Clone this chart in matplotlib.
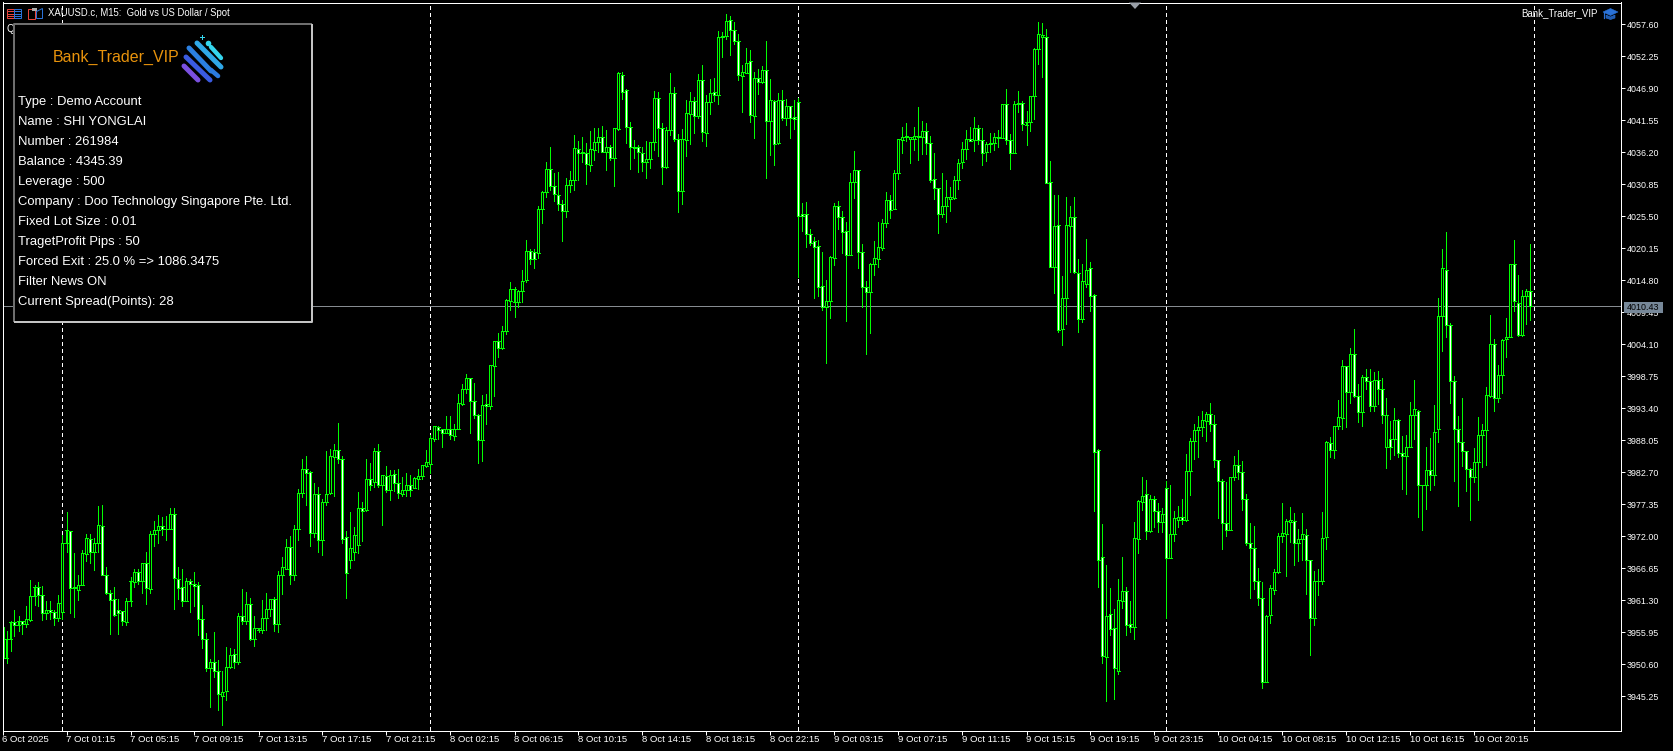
import matplotlib
matplotlib.use("Agg")
import matplotlib.pyplot as plt
from matplotlib.patches import Rectangle, Polygon, Circle
import numpy as np

highs = [
3956.9,3956.2,3957.8,3959.7,3958.6,3957.8,3960.4,3964.7,3963.8,3964.4,
3963.7,3961.1,3961.2,3959.6,3962.2,3972.2,3976.1,3972.9,3969.2,3965.5,
3969.7,3972.4,3972.4,3971.7,3977.1,3977.2,3966.9,3963.0,3963.5,3961.5,
3959.5,3961.6,3965.2,3966.6,3966.6,3967.5,3969.4,3972.8,3974.5,3975.5,
3975.3,3975.4,3976.7,3976.7,3966.9,3966.6,3965.0,3964.8,3966.0,3964.3,
3960.5,3955.8,3951.5,3956.0,3951.3,3949.5,3953.5,3953.3,3953.2,3959.1,
3963.2,3962.7,3961.7,3958.6,3956.6,3961.3,3962.5,3961.5,3961.8,3966.2,
3968.6,3971.5,3972.0,3973.9,3979.9,3984.9,3985.4,3982.9,3980.9,3980.2,
3978.2,3986.3,3986.6,3987.4,3990.9,3985.4,3972.9,3976.1,3973.6,3979.4,
3977.7,3984.9,3984.2,3986.7,3987.5,3982.2,3983.7,3983.1,3983.1,3983.2,
3981.9,3982.6,3982.2,3981.9,3983.2,3984.0,3986.4,3988.9,3990.5,3990.4,
3989.9,3992.1,3992.1,3990.8,3995.8,3997.4,3999.1,3998.4,3997.6,3992.5,
3995.6,3995.8,4000.6,4004.6,4006.0,4007.2,4011.6,4014.5,4013.6,4013.2,
4016.5,4021.5,4020.1,4020.1,4027.3,4029.7,4034.5,4037.1,4032.7,4032.9,
4028.2,4031.9,4033.0,4039.1,4038.1,4038.8,4037.7,4039.8,4040.2,4040.3,
4040.6,4039.9,4037.4,4040.2,4049.6,4049.6,4046.8,4041.3,4038.3,4037.4,
4037.0,4038.1,4038.0,4046.4,4046.3,4041.1,4040.5,4049.5,4047.1,4039.2,
4040.1,4044.9,4046.3,4045.4,4049.3,4050.8,4045.8,4048.5,4048.6,4056.4,
4056.3,4059.3,4059.0,4057.9,4056.0,4050.8,4053.6,4053.3,4049.6,4050.1,
4050.6,4054.8,4048.5,4045.0,4046.1,4046.6,4045.1,4044.0,4044.9,4045.3,
4027.7,4027.9,4023.4,4022.0,4021.5,4019.5,4014.8,4018.9,4027.7,4028.0,
4026.3,4024.5,4032.7,4036.4,4033.2,4020.9,4014.7,4017.7,4021.4,4024.5,
4025.0,4029.6,4029.0,4033.2,4038.5,4040.4,4041.1,4038.8,4040.4,4043.7,
4041.5,4041.1,4039.0,4036.1,4030.2,4032.7,4031.5,4030.4,4032.3,4035.0,
4037.9,4040.0,4040.4,4042.1,4040.7,4040.3,4037.9,4039.4,4039.4,4039.9,
4044.2,4046.8,4039.3,4044.7,4046.4,4044.8,4043.1,4045.6,4053.7,4057.9,
4057.8,4056.8,4034.7,4029.0,4029.0,4015.5,4028.7,4027.2,4028.7,4018.3,
4017.5,4021.7,4017.9,4012.5,3986.6,3974.0,3967.2,3963.3,3959.8,3964.9,
3968.5,3963.5,3961.2,3974.4,3978.1,3981.9,3981.4,3978.9,3978.7,3977.6,
3976.7,3981.2,3980.6,3976.2,3977.1,3978.2,3985.7,3988.4,3990.8,3992.1,
3993.0,3992.7,3994.2,3992.3,3984.7,3981.5,3981.0,3981.9,3985.5,3986.5,
3984.6,3979.1,3974.2,3973.7,3966.7,3964.4,3958.8,3963.8,3966.5,3972.5,
3977.6,3974.9,3976.9,3975.9,3973.2,3975.9,3973.2,3968.1,3966.2,3966.5,
3976.1,3988.0,3988.6,3990.5,3994.8,4001.5,4000.5,4003.4,4006.7,3997.5,
3999.0,4000.0,3999.9,3999.5,3999.6,3998.5,3995.2,3991.3,3993.4,3991.6,
3988.8,3988.9,3994.4,3998.1,3993.1,3980.6,3987.0,3988.4,3993.9,4011.8,
4020.0,4022.9,4007.6,3998.8,3992.1,3995.1,3986.3,3983.4,3986.8,3991.9,
3990.8,3996.9,4009.0,4004.9,4000.6,4004.9,4008.5,4017.6,4021.5,4015.7,
4013.2,4013.3,4020.9]

body_tops = [
3956.9,3954.9,3957.6,3957.6,3957.8,3957.8,3958.1,3962.0,3963.6,3963.6,
3962.1,3959.6,3959.6,3959.3,3960.8,3970.8,3973.0,3972.8,3963.5,3963.8,
3969.2,3971.7,3971.5,3970.8,3973.9,3973.8,3965.6,3962.5,3961.5,3959.6,
3959.5,3961.1,3964.5,3966.0,3966.1,3967.5,3967.5,3972.4,3973.0,3973.7,
3973.7,3973.3,3975.7,3975.7,3964.8,3963.5,3964.5,3964.6,3964.1,3963.8,
3958.1,3954.8,3950.9,3950.9,3949.4,3946.0,3950.2,3952.2,3952.4,3958.7,
3958.7,3960.6,3960.6,3956.6,3956.6,3958.4,3959.8,3961.5,3961.5,3965.6,
3966.8,3970.2,3970.2,3973.3,3979.3,3983.2,3983.2,3982.7,3979.0,3979.0,
3977.8,3979.0,3985.4,3986.4,3986.4,3984.9,3971.8,3970.0,3972.2,3976.8,
3976.8,3981.5,3981.5,3986.2,3986.2,3982.2,3982.1,3982.3,3982.4,3980.9,
3979.8,3980.5,3980.5,3981.7,3982.1,3983.9,3984.4,3988.4,3990.4,3990.3,
3989.9,3989.9,3989.9,3990.0,3994.2,3996.6,3998.4,3998.4,3994.7,3992.2,
3993.9,3994.1,4000.6,4004.6,4004.6,4006.4,4011.5,4013.3,4013.3,4013.0,
4014.6,4019.7,4019.7,4019.5,4026.8,4029.5,4033.4,4033.4,4030.5,4029.1,
4027.5,4030.8,4031.5,4036.9,4036.8,4036.2,4036.0,4036.7,4038.0,4038.7,
4038.7,4037.0,4037.0,4040.2,4049.4,4049.2,4046.6,4040.4,4037.0,4037.0,
4036.1,4035.0,4038.0,4045.2,4045.2,4040.2,4040.0,4046.1,4046.1,4038.5,
4038.4,4042.7,4044.7,4044.7,4048.2,4048.2,4044.6,4046.1,4046.2,4055.4,
4055.6,4058.1,4058.3,4056.6,4054.8,4049.6,4051.2,4051.4,4048.6,4048.6,
4049.9,4049.9,4044.9,4044.7,4045.0,4044.9,4044.0,4044.0,4042.1,4044.6,
4025.8,4025.8,4022.6,4021.3,4020.5,4013.8,4011.4,4018.7,4027.2,4027.2,
4025.3,4023.0,4031.3,4033.2,4033.2,4019.6,4013.6,4017.6,4018.6,4020.3,
4024.3,4028.2,4028.2,4032.8,4038.4,4038.7,4039.0,4038.8,4038.9,4038.9,
4039.7,4039.7,4037.7,4031.7,4030.2,4027.2,4028.7,4028.7,4031.5,4034.4,
4036.7,4038.5,4038.5,4040.2,4040.2,4038.2,4037.6,4037.7,4038.8,4038.7,
4044.2,4044.2,4038.2,4044.3,4044.4,4044.4,4041.2,4045.6,4053.4,4055.9,
4055.8,4055.5,4031.2,4023.8,4024.0,4011.8,4024.1,4025.3,4025.3,4016.1,
4014.6,4016.6,4016.8,4012.3,3986.4,3968.5,3958.6,3959.0,3956.6,3961.3,
3962.8,3962.8,3957.3,3971.7,3977.9,3978.8,3979.0,3978.3,3978.3,3976.3,
3975.8,3980.0,3972.3,3975.0,3975.2,3975.2,3982.9,3988.0,3989.7,3990.2,
3991.4,3992.5,3992.5,3990.7,3984.7,3981.3,3974.2,3981.9,3984.0,3984.0,
3982.7,3978.3,3970.9,3970.1,3964.5,3961.6,3958.7,3963.3,3966.1,3972.0,
3972.5,3974.5,3974.7,3974.6,3971.5,3972.3,3972.2,3968.1,3964.6,3964.6,
3971.7,3987.7,3987.6,3990.5,3991.9,4000.5,4000.4,4002.4,4002.4,3995.5,
3998.6,3998.6,3997.9,3998.2,3998.2,3996.7,3992.2,3988.2,3991.4,3991.4,
3986.0,3987.0,3992.3,3993.2,3992.9,3980.5,3983.0,3983.1,3989.5,4008.9,
4016.8,4016.6,4007.4,3997.9,3989.9,3987.7,3986.2,3983.2,3984.4,3988.9,
3989.7,3995.7,4004.1,4004.1,3998.9,4004.8,4005.3,4017.6,4017.6,4011.0,
4012.1,4013.0,4013.0]

body_bottoms = [
3951.7,3951.7,3954.9,3957.1,3957.1,3957.3,3957.4,3958.0,3962.0,3962.1,
3959.1,3959.1,3959.3,3958.4,3958.4,3959.4,3970.8,3963.4,3963.3,3963.1,
3963.9,3969.1,3969.3,3969.3,3970.8,3965.6,3962.5,3961.4,3958.8,3959.2,
3957.9,3957.7,3961.1,3964.4,3964.6,3964.6,3963.3,3963.2,3972.3,3973.1,
3973.3,3973.2,3973.3,3965.1,3963.3,3961.1,3961.1,3964.1,3963.7,3958.1,
3954.8,3949.9,3950.0,3949.4,3945.6,3945.3,3946.1,3950.2,3951.0,3951.0,
3957.9,3957.8,3954.8,3954.8,3956.4,3956.4,3958.4,3959.8,3957.4,3957.4,
3965.6,3966.6,3965.6,3965.6,3973.2,3979.3,3982.6,3972.5,3972.5,3971.3,
3971.3,3977.8,3979.2,3985.3,3984.9,3971.6,3965.8,3968.0,3969.4,3970.5,
3976.3,3976.4,3980.5,3981.0,3980.6,3980.6,3979.7,3979.7,3980.9,3979.2,
3979.0,3979.8,3979.8,3980.0,3981.6,3982.1,3983.8,3984.1,3988.3,3989.8,
3989.3,3989.3,3988.9,3988.8,3990.0,3994.1,3996.6,3994.7,3992.2,3988.1,
3988.1,3993.7,3993.7,4000.5,4003.5,4003.5,4006.4,4011.4,4011.1,4011.1,
4013.0,4014.8,4018.4,4018.4,4019.4,4026.7,4029.5,4030.5,4029.2,4027.6,
4026.4,4026.4,4030.8,4031.5,4036.1,4036.0,4034.2,4034.1,4036.6,4038.0,
4036.3,4036.3,4035.3,4035.3,4040.1,4046.3,4040.4,4037.0,4036.9,4036.2,
4034.6,4034.6,4035.0,4038.0,4040.2,4033.8,4033.8,4040.0,4038.5,4029.8,
4029.8,4038.2,4042.6,4042.2,4042.2,4039.6,4039.5,4044.6,4045.7,4045.7,
4055.4,4055.7,4056.6,4054.8,4049.1,4049.0,4049.5,4042.5,4042.3,4047.9,
4047.9,4041.5,4041.5,4037.5,4037.7,4042.0,4042.0,4042.0,4041.7,4025.6,
4025.6,4022.6,4021.1,4020.4,4013.7,4010.3,4010.3,4011.4,4018.6,4025.3,
4022.8,4019.0,4019.1,4031.3,4019.6,4013.6,4012.9,4012.9,4017.6,4018.4,
4020.2,4024.3,4026.6,4026.7,4032.8,4038.3,4038.7,4038.5,4038.5,4038.8,
4038.8,4037.7,4031.6,4030.2,4025.9,4025.9,4027.2,4028.4,4028.6,4031.5,
4034.5,4036.7,4038.1,4038.2,4038.3,4036.1,4036.3,4037.6,4037.8,4038.6,
4038.6,4038.2,4036.0,4036.0,4044.2,4040.9,4040.8,4041.2,4045.6,4053.5,
4055.5,4031.1,4017.1,4017.1,4006.5,4006.7,4011.9,4023.8,4016.2,4008.3,
4008.3,4014.2,4012.2,3986.1,3968.1,3952.0,3951.9,3956.5,3949.9,3949.5,
3961.2,3957.2,3956.9,3956.9,3971.6,3977.8,3972.8,3972.8,3976.3,3974.4,
3974.4,3968.4,3968.4,3972.3,3974.8,3974.8,3974.8,3982.9,3988.0,3989.7,
3990.2,3991.3,3990.7,3984.7,3981.3,3974.2,3973.0,3973.0,3981.9,3982.7,
3978.3,3970.9,3970.1,3964.5,3961.6,3947.7,3947.7,3958.8,3963.1,3966.1,
3972.0,3972.4,3974.4,3970.9,3970.8,3971.5,3968.1,3958.3,3958.3,3964.5,
3964.6,3971.8,3986.5,3986.4,3990.5,3991.8,3996.1,3996.2,3995.5,3992.7,
3992.7,3997.9,3993.7,3993.7,3996.7,3992.2,3986.9,3986.9,3988.2,3986.0,
3985.4,3985.4,3987.0,3992.2,3980.5,3980.5,3980.5,3982.2,3982.2,3989.9,
4008.9,4007.4,3997.9,3990.0,3987.7,3986.2,3983.2,3981.9,3981.9,3984.4,
3988.9,3989.7,3995.5,3995.2,3995.2,3998.9,4004.9,4005.3,4011.3,4005.6,
4005.6,4012.1,4010.43]

lows = [
3951.7,3950.8,3952.9,3955.4,3956.2,3955.7,3956.9,3957.8,3960.5,3960.4,
3958.0,3958.2,3958.1,3957.1,3957.8,3958.1,3969.3,3959.1,3958.5,3961.3,
3963.8,3967.9,3967.6,3966.4,3969.3,3965.6,3962.3,3955.7,3958.7,3955.7,
3957.1,3957.2,3960.4,3963.6,3964.1,3962.6,3960.6,3962.5,3970.3,3970.8,
3972.2,3971.4,3973.2,3959.9,3961.5,3960.4,3961.1,3959.3,3960.4,3955.5,
3953.3,3949.5,3943.5,3948.4,3943.0,3940.4,3944.7,3950.0,3950.0,3950.6,
3957.4,3957.3,3954.7,3953.7,3956.0,3955.9,3956.4,3958.6,3956.2,3956.0,
3962.3,3966.5,3964.1,3964.7,3971.4,3978.5,3977.2,3970.3,3971.9,3969.3,
3968.8,3977.3,3979.1,3978.8,3984.3,3970.8,3961.6,3966.7,3968.0,3969.2,
3971.2,3976.2,3979.7,3980.2,3980.3,3973.9,3979.4,3978.1,3979.5,3978.4,
3978.7,3978.7,3978.7,3980.0,3979.9,3981.6,3983.6,3982.6,3987.9,3988.2,
3986.9,3989.3,3988.3,3988.1,3989.9,3994.0,3995.9,3989.3,3991.7,3984.3,
3984.6,3990.8,3993.3,3995.5,4002.0,4003.3,4005.8,4009.8,4008.7,4010.3,
4011.2,4014.5,4017.6,4016.9,4018.5,4024.4,4028.8,4029.9,4028.1,4026.6,
4021.3,4025.4,4029.6,4029.9,4031.6,4034.6,4030.9,4033.1,4034.9,4036.3,
4036.2,4033.2,4034.9,4030.6,4040.0,4045.1,4037.7,4033.4,4035.2,4032.9,
4033.0,4031.9,4033.6,4036.6,4035.6,4030.9,4033.6,4039.1,4038.1,4026.2,
4027.6,4035.6,4037.6,4039.4,4042.0,4038.1,4037.3,4042.6,4044.7,4044.3,
4052.1,4055.1,4052.5,4054.3,4048.3,4043.0,4049.5,4041.3,4038.6,4045.9,
4047.7,4031.9,4035.7,4034.1,4037.6,4041.6,4040.8,4038.6,4040.1,4015.3,
4023.0,4020.4,4020.7,4011.9,4012.2,4009.8,4001.0,4008.5,4017.3,4023.4,
4019.4,4008.0,4019.0,4028.5,4016.9,4010.3,4002.5,4006.0,4015.6,4017.0,
4019.9,4023.7,4025.2,4026.7,4031.7,4036.0,4038.1,4034.4,4036.6,4034.9,
4035.9,4035.9,4031.2,4028.4,4022.7,4025.4,4024.5,4026.4,4028.4,4030.1,
4033.6,4035.0,4038.1,4036.4,4037.6,4034.1,4034.7,4036.2,4036.6,4037.0,
4038.6,4037.5,4033.4,4036.0,4042.9,4039.9,4037.4,4039.8,4041.8,4051.0,
4048.8,4031.0,4017.1,4012.7,4006.2,4003.9,4007.5,4016.2,4016.1,4006.2,
4007.9,4013.7,4009.7,3976.3,3963.5,3950.8,3944.5,3955.5,3944.8,3949.0,
3960.0,3955.5,3956.0,3954.8,3969.2,3976.4,3971.5,3972.7,3973.5,3972.7,
3972.7,3958.3,3968.3,3971.2,3973.6,3974.0,3974.6,3978.9,3984.9,3985.3,
3988.7,3988.0,3989.6,3983.6,3975.0,3969.8,3972.0,3973.0,3981.4,3981.6,
3976.4,3970.5,3961.7,3963.2,3960.5,3946.7,3947.7,3957.5,3962.3,3965.9,
3971.1,3965.4,3971.1,3967.2,3967.9,3968.1,3962.3,3952.2,3957.2,3962.2,
3964.0,3969.9,3985.3,3985.1,3989.9,3989.9,3990.2,3994.3,3995.3,3991.1,
3990.5,3996.7,3993.0,3993.0,3994.1,3990.9,3983.4,3985.0,3985.6,3985.2,
3979.9,3979.1,3987.0,3988.3,3975.3,3973.0,3976.6,3979.7,3980.5,3987.8,
4003.0,4005.3,3994.3,3981.2,3977.1,3983.7,3979.6,3974.8,3981.0,3978.1,
3983.6,3983.9,3995.3,3993.0,3994.5,3996.0,4002.0,4005.3,4009.7,4005.5,
4005.5,4007.5,4008.1]

directions = """
u d u d u d u u u d  d u d d u u u d d u  u u d u u d d d d d  d u u u d u d u u u
d u u d d d u d d d  d d u d d u u u d u  d u d u u u u u d u  u u d u u u d d u d
u u u u d d d u u u  d u d u d u d u d d  u u d u u u u u u d  d u d u u u u d d d
u d u u d u u u d u  u u d d u u u d d d  d u u u d u d u u u  d u d u u d d d d d
d u u u d d u u d d  u u u d u d u u d u  u u d d d u u d u d  u d u d u d u d d d
d d d d d d u u u d  d d u u d d d u u u  u u d u u u u u u u  u d d d d u u u u u
u u d u d d u u u u  u d d u u d u u u u  u d d u d u u u d d  u u d d d d u d d u
u d d u u u d u d d  u d u u u d u u u u  u u d d d d d u u d  d d d d d d u u u u
u u u d u u d d u u  u u d u u u d u d d  u d d u d d u d u d  d u u u d u u d u u
u d d d d d d d u u  u u u d u u u u d d  u u d
""".split()

price_ticks = [4057.60,4052.25,4046.90,4041.55,4036.20,4030.85,4025.50,4020.15,
               4014.80,4009.45,4004.10,3998.75,3993.40,3988.05,3982.70,3977.35,
               3972.00,3966.65,3961.30,3955.95,3950.60,3945.25]
time_labels = ["6 Oct 2025","7 Oct 01:15","7 Oct 05:15","7 Oct 09:15","7 Oct 13:15",
               "7 Oct 17:15","7 Oct 21:15","8 Oct 02:15","8 Oct 06:15","8 Oct 10:15",
               "8 Oct 14:15","8 Oct 18:15","8 Oct 22:15","9 Oct 03:15","9 Oct 07:15",
               "9 Oct 11:15","9 Oct 15:15","9 Oct 19:15","9 Oct 23:15","10 Oct 04:15",
               "10 Oct 08:15","10 Oct 12:15","10 Oct 16:15","10 Oct 20:15"]
panel_lines = ["Type : Demo Account","Name : SHI YONGLAI","Number : 261984","Balance : 4345.39",
               "Leverage : 500","Company : Doo Technology Singapore Pte. Ltd.","Fixed Lot Size : 0.01",
               "TragetProfit Pips : 50","Forced Exit : 25.0 % => 1086.3475","Filter News ON",
               "Current Spread(Points): 28"]
last_price = 4010.43
day_separators = [15, 107, 199, 291, 383]

FONT = "Liberation Sans"
GREEN = "#00FF00"
W, H = 1674, 751
PX = 0.72  # one pixel in points at 100 dpi

fig = plt.figure(figsize=(W/100, H/100), dpi=100, facecolor="black")
ax = fig.add_axes([2.5/W, (H-730.5)/H, 1619/W, 728/H], facecolor="black")
ax.set_xlim(0, 404.75)
ax.set_ylim(3939.53, 4061.24)

n = len(highs)
x = np.arange(n)
hi, lo = np.array(highs), np.array(lows)
top, bot = np.array(body_tops), np.array(body_bottoms)
falling = np.array([d == "d" for d in directions])
opens = np.where(falling, top, bot)
closes = np.where(falling, bot, top)
PXI = 0.25  # one pixel in bar units

# separators and price line sit beneath the candles
ax.vlines(day_separators, *ax.get_ylim(), colors="white", linewidths=PX,
          linestyles=[(0, (3, 3))], antialiased=False, zorder=1)
ax.axhline(last_price, color="#868b90", lw=PX, antialiased=False, zorder=1)

upper = np.maximum(opens, closes)
lower = np.minimum(opens, closes)
ax.vlines(x, lo, hi, colors=GREEN, linewidths=PX, antialiased=False, zorder=2)
fills = np.where(falling, "white", "black")
ax.vlines(x, lower, upper, colors=list(fills), linewidths=PX, antialiased=False, zorder=3)
ax.vlines(x - PXI, lower, upper, colors=GREEN, linewidths=PX, antialiased=False, zorder=4)
ax.vlines(x + PXI, lower, upper, colors=GREEN, linewidths=PX, antialiased=False, zorder=4)
ax.hlines(upper, x - 1.5*PXI, x + 1.5*PXI, colors=GREEN, linewidths=PX, antialiased=False, zorder=4)
ax.hlines(lower, x - 1.5*PXI, x + 1.5*PXI, colors=GREEN, linewidths=PX, antialiased=False, zorder=4)

for s in ax.spines.values():
    s.set_color("white")
    s.set_linewidth(PX)
    s.set_zorder(6)
ax.yaxis.tick_right()
ax.set_yticks(price_ticks, [f"{p:.2f}" for p in price_ticks])
ax.set_xticks(np.arange(0, n, 16), time_labels)
ax.tick_params(axis="y", colors="white", length=4*PX, width=PX, pad=1.0, labelsize=6.4)
ax.tick_params(axis="x", colors="white", length=4*PX, width=PX, pad=0.2, labelsize=6.8)
for t in ax.get_xticklabels() + ax.get_yticklabels():
    t.set_fontfamily(FONT)
for t in ax.get_xticklabels():
    t.set_ha("left")

# overlay working in image pixels for the terminal's furniture
ov = fig.add_axes([0, 0, 1, 1], facecolor="none", zorder=5)
ov.set_xlim(0, W)
ov.set_ylim(H, 0)
ov.axis("off")

def rect(x0, y0, w, h, fc="none", ec="none", lw=PX, z=5):
    ov.add_patch(Rectangle((x0, y0), w, h, fc=fc, ec=ec, lw=lw, zorder=z))

# chart title and its two little icons
ov.text(48.5, 13.5, "XAUUSD.c, M15:  Gold vs US Dollar / Spot", color="white", family=FONT,
        fontsize=6.85, va="center", ha="left")
rect(7.5, 8.5, 7, 9.5, ec="#e8433a", lw=PX)
rect(14.5, 8.5, 7, 9.5, ec="#2a72d8", lw=PX)
for yy in (11, 13.5, 16):
    ov.plot([8.5, 14], [yy, yy], color="#e8433a", lw=PX)
    ov.plot([15.5, 21], [yy, yy], color="#2a72d8", lw=PX)
ov.add_patch(Polygon([(28.5, 8.5), (35.5, 8.5), (35.5, 18.5), (28.5, 18.5)], fc="none", ec="#e8433a", lw=PX))
ov.add_patch(Polygon([(36.5, 11.5), (42.5, 8.5), (42.5, 18.5), (36.5, 18.5)], fc="none", ec="#2a72d8", lw=PX))
rect(32, 8, 5, 3, fc="#aaaaaa")
ov.text(7, 29.5, "Q", color="white", family=FONT, fontsize=7, va="center", ha="left", zorder=3)

# right-top name and graduation cap
ov.text(1597.5, 13.5, "Bank_Trader_VIP", color="white", family=FONT, fontsize=7.0, va="center", ha="right")
ov.add_patch(Polygon([(1603, 12), (1610.5, 8.5), (1618, 12), (1610.5, 15.5)], fc="#2a72d8", ec="#2a72d8", lw=0.4))
ov.add_patch(Polygon([(1606, 15), (1606, 18), (1610.5, 19.5), (1615, 18), (1615, 15), (1610.5, 17)],
                     fc="#1f5bb0", ec="#2a72d8", lw=0.4))
ov.plot([1604.5, 1604.5], [12, 18], color="#2a72d8", lw=PX*1.2)

# price marker and the gray arrow on the top edge
rect(1624, 302, 39, 11, fc="#778899", z=6)
ov.text(1627, 307.8, "4010.43", color="black", family=FONT, fontsize=6.4, va="center", ha="left", zorder=7)
ov.add_patch(Polygon([(1129, 2.5), (1141, 2.5), (1135, 9)], fc="#9aa0a8", ec="none"))

# account panel
ov.add_patch(Rectangle((14, 24), 298, 298, fc="black", ec="none", zorder=8))
ov.plot([14, 14, 312], [322, 24, 24], color="#6e6e6e", lw=2*PX, zorder=9, solid_capstyle="butt")
ov.plot([14, 312, 312], [322, 322, 24], color="#c4c4c4", lw=2*PX, zorder=9, solid_capstyle="butt")
ov.text(53, 57.5, "Bank_Trader_VIP", color="#E8930C", family=FONT, fontsize=11.5, va="center", ha="left", zorder=10)
for k, line in enumerate(panel_lines):
    ov.text(18, 102 + 20*k, line, color="white", family=FONT, fontsize=9.4, va="center", ha="left", zorder=10)

# logo: slanted rounded bars
logo_bars = [((211, 47), (221, 58), "#35d6ee", 4.4), ((197, 43), (221, 67), "#2fa8e8", 5.0),
             ((189, 48), (211, 71), "#2b80e2", 5.0), ((211, 70), (218, 76), "#2b7be0", 4.6),
             ((186, 57), (210, 80), "#3a5be0", 5.0), ((184, 66), (198, 80), "#7a50e0", 5.0)]
for (p0, p1, c, w) in logo_bars:
    ov.plot([p0[0], p1[0]], [p0[1], p1[1]], color=c, lw=w*PX, solid_capstyle="round", zorder=10)
ov.add_patch(Circle((208.5, 43.5), 2.8, fc="#35d6ee", ec="none", zorder=10))
ov.plot([202.5, 202.5], [35, 39], color="#35d6ee", lw=PX, zorder=10)
ov.plot([200.5, 204.5], [37, 37], color="#35d6ee", lw=PX, zorder=10)

fig.savefig("out.png", dpi=100, facecolor="black")
